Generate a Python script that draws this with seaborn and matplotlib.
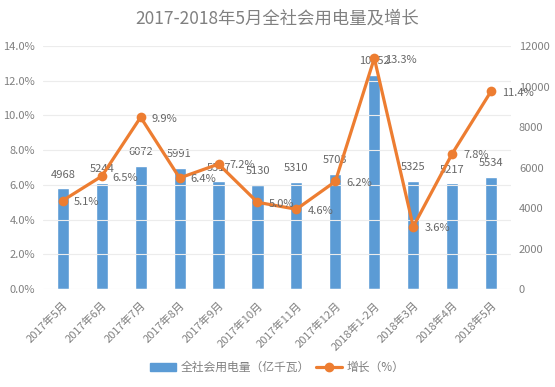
import numpy as np
import pandas as pd
import matplotlib
matplotlib.use("Agg")
import matplotlib.pyplot as plt
import seaborn as sns
from matplotlib.patches import Patch
from matplotlib.lines import Line2D

# =========================================================
# DATA
# =========================================================
months = ["2017年5月", "2017年6月", "2017年7月", "2017年8月", "2017年9月",
          "2017年10月", "2017年11月", "2017年12月", "2018年1-2月",
          "2018年3月", "2018年4月", "2018年5月"]
usage = [4968, 5244, 6072, 5991, 5317, 5130, 5310, 5703, 10552, 5325, 5217, 5534]
growth = [5.1, 6.5, 9.9, 6.4, 7.2, 5.0, 4.6, 6.2, 13.3, 3.6, 7.8, 11.4]

df = pd.DataFrame({"month": months, "usage": usage, "growth": growth})

BLUE = "#5B9BD5"
ORANGE = "#ED7D31"
GREY = "#808080"

# =========================================================
# STYLE
# =========================================================
sns.set_style("white")
plt.rcParams["font.family"] = ["Noto Sans CJK SC", "DejaVu Sans"]

fig = plt.figure(figsize=(5.55, 3.87), dpi=100)
ax = fig.add_axes([0.078, 0.253, 0.842, 0.628])

# bars on the right-hand axis
sns.barplot(data=df, x="month", y="usage", color=BLUE, width=0.31,
            saturation=1, ax=ax)
ax.set_ylim(0, 12000)
ax.set_yticks(np.arange(0, 12001, 2000))
ax.set_xlim(-0.5, len(months) - 0.5)

for i, v in enumerate(usage):
    ax.annotate(f"{v}", (i, v), xytext=(0, 10), textcoords="offset points",
                ha="center", va="center", fontsize=8, color="#666666")

# line on the left-hand axis
ax2 = ax.twinx()
x_pos = np.arange(len(months))
sns.lineplot(x=x_pos, y=growth, color=ORANGE, linewidth=2.3, marker="o",
             markersize=7, markeredgewidth=0, ax=ax2)
ax2.set_ylim(0, 14)
ax2.set_yticks(np.arange(0, 14.1, 2))
ax2.set_yticklabels([f"{t:.1f}%" for t in np.arange(0, 14.1, 2)])
ax2.grid(axis="y", color="#ececec", linewidth=0.8)
ax2.set_axisbelow(True)

for i, v in enumerate(growth):
    ax2.annotate(f"{v:.1f}%", (i, v), xytext=(8, -1), textcoords="offset points",
                 ha="left", va="center", fontsize=8, color="#666666")

# swap sides: bars' scale on the right, growth on the left
ax.yaxis.tick_right()
ax.yaxis.set_label_position("right")
ax2.yaxis.tick_left()
ax2.yaxis.set_label_position("left")

for a in (ax, ax2):
    for s in a.spines.values():
        s.set_visible(False)
    a.set_xlabel("")
    a.set_ylabel("")
    a.tick_params(axis="both", length=0, labelsize=8, labelcolor=GREY)

ax.set_xticks(x_pos)
ax.set_xticklabels(months, rotation=45, ha="right", rotation_mode="anchor")
ax.tick_params(axis="x", pad=8)
ax.tick_params(axis="y", pad=6)
ax2.tick_params(axis="y", pad=6)
ax2.set_zorder(ax.get_zorder() + 1)
ax2.patch.set_visible(False)
ax.grid(False)

fig.suptitle("2017-2018年5月全社会用电量及增长", x=0.5, y=0.975,
             fontsize=12.5, color=GREY)

handles = [Patch(color=BLUE),
           Line2D([0], [0], color=ORANGE, linewidth=2.3, marker="o", markersize=6)]
fig.legend(handles, ["全社会用电量（亿千瓦）", "增长（%）"], loc="center",
           bbox_to_anchor=(0.5, 0.05), ncol=2, frameon=False, fontsize=8.5,
           labelcolor=GREY, handlelength=2.2, columnspacing=0.5,
           handletextpad=0.4)

fig.savefig("out.png", dpi=100)
